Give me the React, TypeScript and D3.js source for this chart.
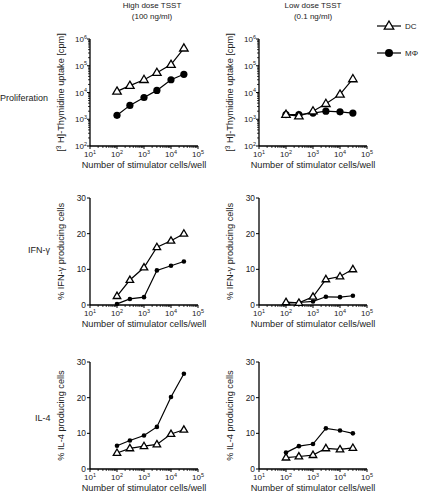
import React from "react";
import * as d3 from "d3";

const cells = [100, 300, 1000, 3000, 10000, 30000];
const profHighDC = [11000, 18000, 30000, 55000, 110000, 450000];
const profHighMP = [1400, 3300, 6500, 12000, 30000, 48000];
const profLowDC = [1500, 1300, 2000, 3800, 8500, 32000];
const profLowMP = [1500, 1500, 1700, 2000, 1900, 1700];
const ifnHighDC = [2.5, 7, 10.5, 16.2, 18, 20];
const ifnHighMP = [0.3, 1.7, 2.2, 9.7, 11, 12.2];
const ifnLowDC = [0.8, 0.6, 2.3, 7.2, 8, 10];
const ifnLowMP = [0.5, 0.7, 1.0, 2.3, 2.2, 2.6];
const il4HighDC = [4.5, 5.8, 6.4, 6.9, 9.8, 11];
const il4HighMP = [6.5, 8, 9.4, 11.8, 20.2, 26.7];
const il4LowDC = [3.2, 3.5, 3.9, 5.8, 5.5, 5.9];
const il4LowMP = [4.6, 6.4, 7, 11.4, 10.8, 10];
const linTicks = [0, 10, 20, 30];
const colTitles = [["High dose TSST", "(100 ng/ml)"], ["Low dose TSST", "(0.1 ng/ml)"]];
const rowLabels = ["Proliferation", "IFN-γ", "IL-4"];
const legendLabels = ["DC", "MΦ"];

const FONT = "'Liberation Sans', Arial, Helvetica, sans-serif";
const W = 108;
const H = 107;
const colX = [90, 259];
const rowY = [39, 198, 362];

function Pow({ x, y, exp, anchor = "middle", size = 8 }: any) {
  return (
    <text x={x} y={y} textAnchor={anchor} fontSize={size} fontFamily={FONT} fill="#222">
      10<tspan dy={-3.5} fontSize={size * 0.68}>{exp}</tspan>
    </text>
  );
}

function Tri({ x, y, s }: any) {
  const h = s * 0.85;
  return (
    <path
      d={`M${x},${y - h * 0.62}L${x + s / 2},${y + h * 0.38}L${x - s / 2},${y + h * 0.38}Z`}
      fill="#fff"
      stroke="#000"
      strokeWidth={1.3}
    />
  );
}

function Panel({ x0, y0, log, dc, mp, yLabel, big }: any) {
  const xs = d3.scaleLog().domain([10, 1e5]).range([0, W]);
  const ys: any = log
    ? d3.scaleLog().domain([100, 1e6]).range([H, 0])
    : d3.scaleLinear().domain([0, 30]).range([H, 0]);
  const line = d3
    .line<number>()
    .x((_, i) => xs(cells[i]))
    .y((v) => ys(v));
  const xMajor = [1, 2, 3, 4, 5];
  const xMinor: number[] = [];
  for (let e = 1; e < 5; e++) for (let k = 2; k <= 9; k++) xMinor.push(k * Math.pow(10, e));
  const yMinor: number[] = [];
  if (log) for (let e = 2; e < 6; e++) for (let k = 2; k <= 9; k++) yMinor.push(k * Math.pow(10, e));
  const r = big ? 3.6 : 2.3;
  const ts = big ? 8.5 : 7.5;
  return (
    <g transform={`translate(${x0},${y0})`}>
      <line x1={0} x2={W} y1={H} y2={H} stroke="#000" strokeWidth={1.3} />
      {xMajor.map((e) => (
        <g key={"xM" + e}>
          <line x1={xs(Math.pow(10, e))} x2={xs(Math.pow(10, e))} y1={H} y2={H + 3} stroke="#000" strokeWidth={1} />
          <Pow x={xs(Math.pow(10, e))} y={H + 11} exp={e} />
        </g>
      ))}
      {xMinor.map((v) => (
        <line key={"xm" + v} x1={xs(v)} x2={xs(v)} y1={H} y2={H + 2} stroke="#000" strokeWidth={0.8} />
      ))}
      <text x={W / 2} y={H + 22} textAnchor="middle" fontSize={9.2} fontFamily={FONT} fill="#222">
        Number of stimulator cells/well
      </text>
      <line x1={0} x2={0} y1={0} y2={H} stroke="#000" strokeWidth={1.3} />
      {log
        ? [2, 3, 4, 5, 6].map((e) => (
            <g key={"yM" + e}>
              <line x1={-3} x2={0} y1={ys(Math.pow(10, e))} y2={ys(Math.pow(10, e))} stroke="#000" strokeWidth={1} />
              <Pow x={-3} y={ys(Math.pow(10, e)) + 3} exp={e} anchor="end" />
            </g>
          ))
        : linTicks.map((v) => (
            <g key={"yL" + v}>
              <line x1={-3} x2={0} y1={ys(v)} y2={ys(v)} stroke="#000" strokeWidth={1} />
              <text x={-4} y={ys(v) + 3} textAnchor="end" fontSize={8.4} fontFamily={FONT} fill="#222">
                {v}
              </text>
            </g>
          ))}
      {yMinor.map((v) => (
        <line key={"ym" + v} x1={-2} x2={0} y1={ys(v)} y2={ys(v)} stroke="#000" strokeWidth={0.8} />
      ))}
      <text
        transform={`translate(${-26},${H / 2}) rotate(-90)`}
        textAnchor="middle"
        fontSize={9.2}
        fontFamily={FONT}
        fill="#222"
      >
        {yLabel}
      </text>
      <path d={line(mp) || ""} fill="none" stroke="#000" strokeWidth={1.2} />
      <path d={line(dc) || ""} fill="none" stroke="#000" strokeWidth={1.2} />
      {mp.map((v: number, i: number) => (
        <circle key={"c" + i} cx={xs(cells[i])} cy={ys(v)} r={r} fill="#000" />
      ))}
      {dc.map((v: number, i: number) => (
        <Tri key={"t" + i} x={xs(cells[i])} y={ys(v)} s={ts} />
      ))}
    </g>
  );
}

export default function App() {
  const profLabel = (
    <>
      [<tspan dy={-3} fontSize={6.5}>3</tspan>
      <tspan dy={3}> H]-Thymidine uptake [cpm]</tspan>
    </>
  );
  return (
    <svg width={422} height={496} style={{ position: "absolute", left: 0, top: 0, background: "#fff" }}>
      {colTitles.map((t, i) => (
        <g key={"ct" + i}>
          <text x={[152, 313][i]} y={8} textAnchor="middle" fontSize={8} fontFamily={FONT} fill="#222">
            {t[0]}
          </text>
          <text x={[152, 313][i]} y={19} textAnchor="middle" fontSize={8} fontFamily={FONT} fill="#222">
            {t[1]}
          </text>
        </g>
      ))}
      {rowLabels.map((l, i) => (
        <text
          key={"rl" + i}
          x={[0, 28, 35][i]}
          y={[101, 253, 421][i]}
          fontSize={9}
          fontFamily={FONT}
          fill="#222"
        >
          {l}
        </text>
      ))}
      <Panel x0={colX[0]} y0={rowY[0]} log dc={profHighDC} mp={profHighMP} yLabel={profLabel} big />
      <Panel x0={colX[1]} y0={rowY[0]} log dc={profLowDC} mp={profLowMP} yLabel={profLabel} big />
      <Panel x0={colX[0]} y0={rowY[1]} dc={ifnHighDC} mp={ifnHighMP} yLabel="% IFN-γ producing cells" />
      <Panel x0={colX[1]} y0={rowY[1]} dc={ifnLowDC} mp={ifnLowMP} yLabel="% IFN-γ producing cells" />
      <Panel x0={colX[0]} y0={rowY[2]} dc={il4HighDC} mp={il4HighMP} yLabel="% IL-4 producing cells" />
      <Panel x0={colX[1]} y0={rowY[2]} dc={il4LowDC} mp={il4LowMP} yLabel="% IL-4 producing cells" />
      <g>
        <line x1={377} x2={401} y1={26} y2={26} stroke="#000" strokeWidth={1.2} />
        <Tri x={389} y={26} s={9.5} />
        <text x={405} y={29} fontSize={8} fontFamily={FONT} fill="#222">
          {legendLabels[0]}
        </text>
        <line x1={377} x2={401} y1={53} y2={53} stroke="#000" strokeWidth={1.2} />
        <circle cx={389} cy={53} r={4} fill="#000" />
        <text x={405} y={56} fontSize={8} fontFamily={FONT} fill="#222">
          {legendLabels[1]}
        </text>
      </g>
    </svg>
  );
}
